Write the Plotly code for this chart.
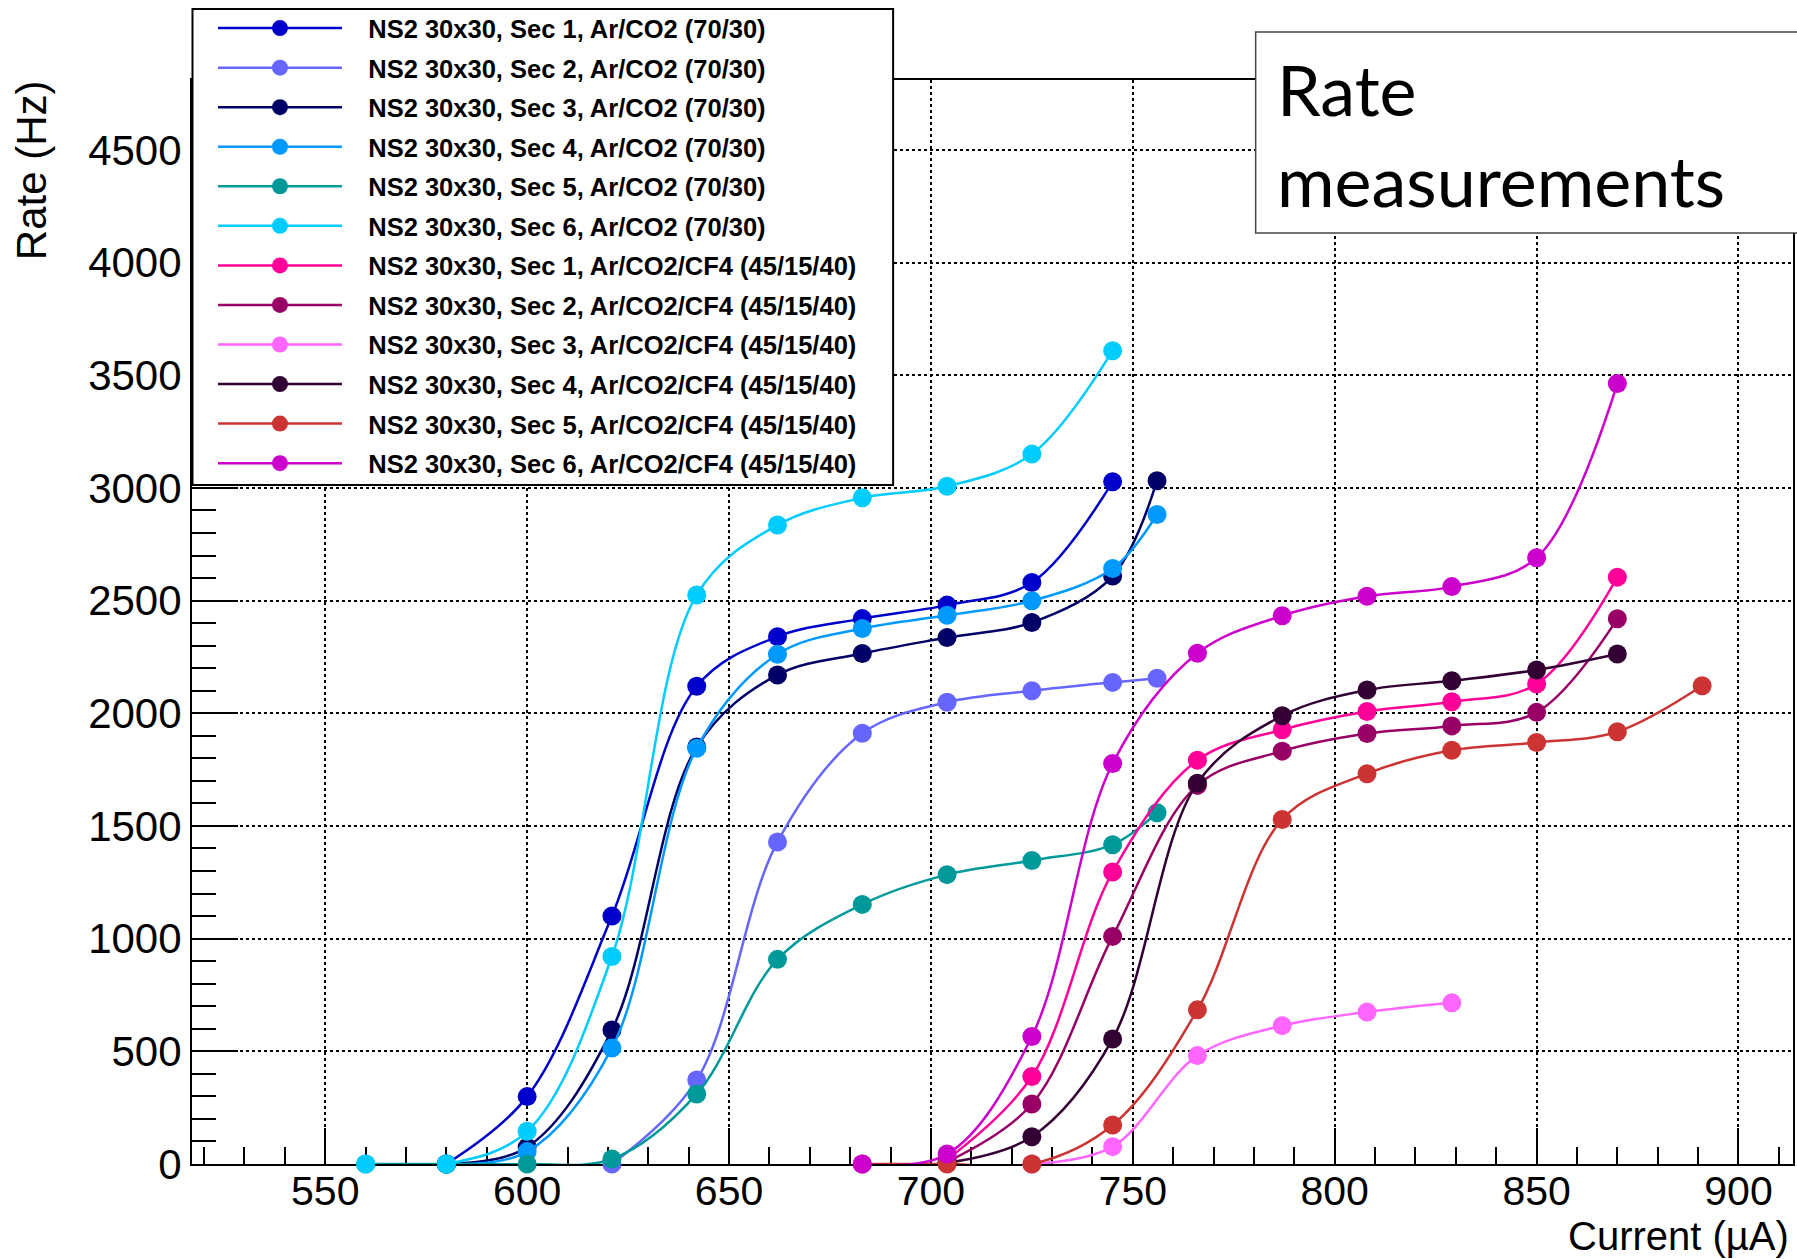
import plotly.graph_objects as go

# ---------------- data ----------------
series_names = [
    "NS2 30x30, Sec 1, Ar/CO2 (70/30)",
    "NS2 30x30, Sec 2, Ar/CO2 (70/30)",
    "NS2 30x30, Sec 3, Ar/CO2 (70/30)",
    "NS2 30x30, Sec 4, Ar/CO2 (70/30)",
    "NS2 30x30, Sec 5, Ar/CO2 (70/30)",
    "NS2 30x30, Sec 6, Ar/CO2 (70/30)",
    "NS2 30x30, Sec 1, Ar/CO2/CF4 (45/15/40)",
    "NS2 30x30, Sec 2, Ar/CO2/CF4 (45/15/40)",
    "NS2 30x30, Sec 3, Ar/CO2/CF4 (45/15/40)",
    "NS2 30x30, Sec 4, Ar/CO2/CF4 (45/15/40)",
    "NS2 30x30, Sec 5, Ar/CO2/CF4 (45/15/40)",
    "NS2 30x30, Sec 6, Ar/CO2/CF4 (45/15/40)",
]
series_colors = ["#0000cc", "#6666ff", "#000066", "#0099ff", "#009999", "#00ccff",
                 "#ff0099", "#990066", "#ff66ff", "#330033", "#cc3333", "#cc00cc"]

# Ar/CO2 (70/30)
sec1_x = [580, 600, 621, 642, 662, 683, 704, 725, 745]
sec1_y = [0, 299, 1100, 2120, 2340, 2420, 2480, 2580, 3027]
sec2_x = [621, 642, 662, 683, 704, 725, 745, 756]
sec2_y = [0, 373, 1429, 1911, 2049, 2100, 2137, 2155]
sec3_x = [580, 600, 621, 642, 662, 683, 704, 725, 745, 756]
sec3_y = [0, 75, 595, 1850, 2170, 2265, 2336, 2403, 2609, 3032]
sec4_x = [580, 600, 621, 642, 662, 683, 704, 725, 745, 756]
sec4_y = [0, 55, 515, 1845, 2262, 2376, 2435, 2499, 2642, 2882]
sec5_x = [560, 580, 600, 621, 642, 662, 683, 704, 725, 745, 756]
sec5_y = [0, 0, 0, 22, 311, 908, 1152, 1284, 1347, 1417, 1559]
sec6_x = [560, 580, 600, 621, 642, 662, 683, 704, 725, 745]
sec6_y = [0, 0, 145, 921, 2525, 2835, 2956, 3007, 3150, 3609]

# Ar/CO2/CF4 (45/15/40)
cf_sec1_x = [704, 725, 745, 766, 787, 808, 829, 850, 870]
cf_sec1_y = [20, 388, 1296, 1792, 1927, 2008, 2051, 2130, 2604]
cf_sec2_x = [704, 725, 745, 766, 787, 808, 829, 850, 870]
cf_sec2_y = [10, 266, 1010, 1680, 1832, 1910, 1944, 2004, 2419]
cf_sec3_x = [725, 745, 766, 787, 808, 829]
cf_sec3_y = [0, 77, 481, 614, 674, 715]
cf_sec4_x = [704, 725, 745, 766, 787, 808, 829, 850, 870]
cf_sec4_y = [5, 121, 555, 1690, 1989, 2103, 2144, 2192, 2263]
cf_sec5_x = [683, 704, 725, 745, 766, 787, 808, 829, 850, 870, 891]
cf_sec5_y = [0, 0, 0, 173, 684, 1529, 1732, 1836, 1870, 1918, 2122]
cf_sec6_x = [683, 704, 725, 745, 766, 787, 808, 829, 850, 870]
cf_sec6_y = [0, 44, 566, 1777, 2266, 2433, 2519, 2562, 2690, 3463]

series_x = [sec1_x, sec2_x, sec3_x, sec4_x, sec5_x, sec6_x,
            cf_sec1_x, cf_sec2_x, cf_sec3_x, cf_sec4_x, cf_sec5_x, cf_sec6_x]
series_y = [sec1_y, sec2_y, sec3_y, sec4_y, sec5_y, sec6_y,
            cf_sec1_y, cf_sec2_y, cf_sec3_y, cf_sec4_y, cf_sec5_y, cf_sec6_y]

x_title = "Current (µA)"
y_title = "Rate (Hz)"
box_text = "Rate<br>measurements"

# ---------------- geometry ----------------
W, H = 1797, 1259
L, R, T, B = 192, 2, 80, 95
PW, PH = W - L - R, H - T - B


def px(xp):
    return (xp - L) / PW


def py(yp):
    return (H - B - yp) / PH


FONT = "Liberation Sans, Arial, Helvetica, sans-serif"
GAP = "\u00a0" * 3  # gap between the legend symbol and its label, as in the ROOT legend

fig = go.Figure()
for i in range(len(series_names)):
    c = series_colors[i]
    fig.add_trace(go.Scatter(
        x=series_x[i], y=series_y[i], name=GAP + series_names[i],
        mode="lines+markers",
        line=dict(color=c, width=2.5, shape="spline", smoothing=1),
        marker=dict(color=c, size=19, symbol="circle"),
        cliponaxis=False, legendgroup="g%d" % i,
    ))

fig.update_layout(
    width=W, height=H, autosize=False,
    margin=dict(l=L, r=R, t=T, b=B, pad=0),
    paper_bgcolor="white", plot_bgcolor="white",
    font=dict(family=FONT, size=42, color="black"),
    showlegend=True,
    legend=dict(
        x=px(213), y=py(5), xanchor="left", yanchor="top",
        bgcolor="rgba(0,0,0,0)", borderwidth=0,
        font=dict(family=FONT, size=25.5, color="black", weight="bold"),
        itemwidth=124, tracegroupgap=3.4, traceorder="grouped",
    ),
)

fig.update_xaxes(
    range=[517, 913.5], showline=True, linecolor="black", linewidth=2, mirror=True,
    ticks="inside", ticklen=36, tickwidth=2, tickcolor="black", dtick=50, tick0=0,
    showgrid=True, gridcolor="black", gridwidth=2, griddash="3px,3px",
    zeroline=False, layer="below traces", ticklabelstandoff=-10,
    tickfont=dict(family=FONT, size=41, color="black"),
    minor=dict(ticks="inside", ticklen=17, tickwidth=2, tickcolor="black", dtick=10, showgrid=False),
)
fig.update_yaxes(
    range=[0, 4810], showline=True, linecolor="black", linewidth=2, mirror=True,
    ticks="inside", ticklen=46, tickwidth=2, tickcolor="black", dtick=500, tick0=0,
    showgrid=True, gridcolor="black", gridwidth=2, griddash="3px,3px",
    zeroline=False, layer="below traces", ticklabelstandoff=0,
    tickfont=dict(family=FONT, size=42, color="black"),
    minor=dict(ticks="inside", ticklen=24, tickwidth=2, tickcolor="black", dtick=100, showgrid=False),
)

# legend frame (ROOT style box)
fig.add_shape(type="rect", xref="paper", yref="paper",
              x0=px(192.5), x1=px(894), y0=py(485), y1=py(9),
              fillcolor="white", line=dict(color="black", width=2), layer="above")
# "Rate measurements" box
fig.add_shape(type="rect", xref="paper", yref="paper",
              x0=px(1257), x1=px(1830), y0=py(233), y1=py(32),
              fillcolor="white", line=dict(color="#444444", width=1.5), layer="above")
fig.add_annotation(text=box_text, xref="paper", yref="paper", x=px(1276), y=py(134),
                   xanchor="left", yanchor="middle", align="left", showarrow=False,
                   font=dict(family="Lato, Open Sans, sans-serif", size=70, color="black"))

# axis titles (ROOT-style, aligned to the axis end)
fig.add_annotation(text=y_title, xref="paper", yref="paper", x=px(32), y=py(78),
                   xanchor="center", yanchor="top", textangle=-90, showarrow=False,
                   font=dict(family=FONT, size=42, color="black"))
fig.add_annotation(text=x_title, xref="paper", yref="paper", x=px(1792), y=py(1259),
                   xanchor="right", yanchor="bottom", showarrow=False, borderpad=0,
                   font=dict(family=FONT, size=40, color="black"))

fig.write_html("out.html", config={"displayModeBar": False},
               post_script="document.body.style.margin='0px';")
